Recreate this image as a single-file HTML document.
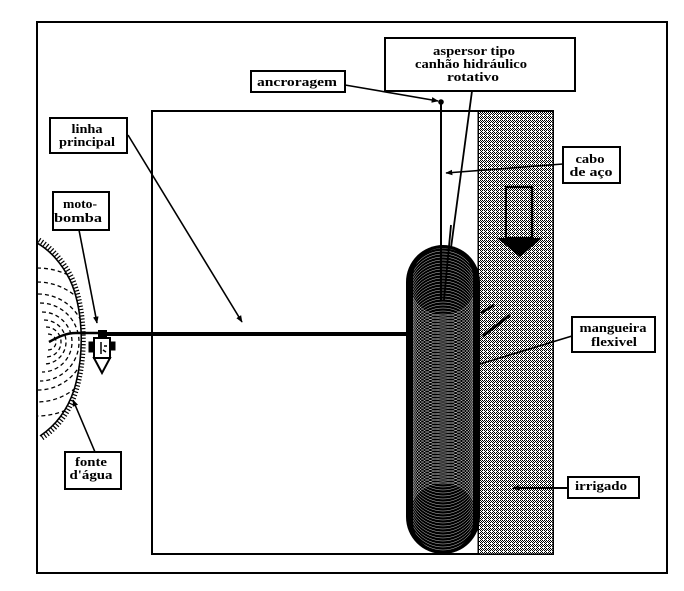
<!DOCTYPE html>
<html><head><meta charset="utf-8">
<style>
html,body{margin:0;padding:0;background:#fff;}
svg{display:block;}
text{font-family:"Liberation Serif","DejaVu Serif",serif;font-weight:bold;font-size:13px;fill:#000;text-anchor:middle;}
</style></head>
<body>
<svg width="684" height="591" viewBox="0 0 684 591" xmlns="http://www.w3.org/2000/svg">
<defs>
<pattern id="chk" patternUnits="userSpaceOnUse" x="0" y="0" width="4" height="4">
<rect width="4" height="4" fill="#fff"/>
<rect x="0" y="0" width="1" height="1" fill="#000"/>
<rect x="2" y="0" width="1" height="1" fill="#000"/>
<rect x="1" y="1" width="1" height="1" fill="#000"/>
<rect x="3" y="1" width="1" height="1" fill="#000"/>
<rect x="0" y="2" width="1" height="1" fill="#000"/>
<rect x="2" y="2" width="1" height="1" fill="#000"/>
<rect x="1" y="3" width="1" height="1" fill="#000"/>
</pattern>
<marker id="ah" viewBox="0 0 10 10" refX="9" refY="5" markerWidth="7" markerHeight="7" orient="auto" markerUnits="userSpaceOnUse">
<path d="M0,1 L10,5 L0,9 Z" fill="#000"/>
</marker>
<clipPath id="water">
<path d="M37,243 C50,250 62,264 70,280 C77,295 80,312 81,330 C82,350 80,370 74,390 C68,408 58,424 40,436 L37,438 Z"/>
</clipPath>
<clipPath id="coilin">
<rect x="413" y="248" width="60" height="303" rx="30"/>
</clipPath>
</defs>

<!-- outer frame -->
<rect x="37" y="22" width="630" height="551" fill="none" stroke="#000" stroke-width="2"/>

<!-- inner field -->
<rect x="152" y="111" width="401" height="443" fill="none" stroke="#000" stroke-width="2"/>
<!-- irrigated strip -->
<rect x="478" y="111" width="75" height="443" fill="url(#chk)" stroke="#000" stroke-width="1.5" shape-rendering="crispEdges"/>

<!-- down arrow in strip -->
<rect x="506" y="187" width="26" height="51" fill="url(#chk)" stroke="#000" stroke-width="2.2"/>
<polygon points="497,238 542,238 520,257" fill="#000"/>

<!-- water body -->
<g fill="none" stroke="#000">
<path d="M37,243 C50,250 62,264 70,280 C77,295 80,312 81,330 C82,350 80,370 74,390 C68,408 58,424 40,436" stroke-width="1.6"/>
<path d="M39,240 C52,248 64,262 72,278 C79,294 82,312 83,330 C84,350 82,371 76,391 C70,410 60,426 42,438" stroke-width="5" stroke-dasharray="1.2 2"/>
<g stroke-width="1.3" stroke-dasharray="4 3" clip-path="url(#water)">
<path d="M48,334 A8,8 0 0 1 48,350"/>
<path d="M46,327 A15,15 0 0 1 46,357"/>
<path d="M44,320 A22,22 0 0 1 44,364"/>
<path d="M42,312 A30,30 0 0 1 42,372"/>
<path d="M40,303 A37,37 0 0 1 40,381"/>
<path d="M38,294 A46,46 0 0 1 38,390"/>
<path d="M37,282 A58,58 0 0 1 37,402"/>
<path d="M37,268 A72,72 0 0 1 37,416"/>
</g>
</g>

<!-- suction pipe -->
<path d="M49,342 C58,337 66,333 76,333 L100,333" fill="none" stroke="#000" stroke-width="2.5"/>
<!-- main line -->
<line x1="104" y1="334" x2="410" y2="334" stroke="#000" stroke-width="4"/>

<!-- pump -->
<g fill="#fff" stroke="#000" stroke-width="2">
<rect x="99" y="331" width="7" height="6" fill="#000"/>
<rect x="94" y="338" width="16" height="20"/>
<path d="M94,358 L110,358 L102,373 Z"/>
<rect x="89" y="342" width="4" height="10" fill="#000" stroke-width="1"/>
<rect x="111" y="342" width="4" height="8" fill="#000" stroke-width="1"/>
<path d="M101,342 L101,354 M104,346 L107,346 M103,350 L106,352" stroke-width="1.5"/>
</g>

<!-- cable and sprinkler lines -->
<line x1="441" y1="102" x2="441" y2="300" stroke="#000" stroke-width="2"/>
<circle cx="441" cy="102" r="2.8" fill="#000"/>
<line x1="472" y1="91" x2="444" y2="300" stroke="#000" stroke-width="1.8"/>

<!-- coil (hose loops) -->
<rect x="406" y="245" width="74" height="309" rx="37" fill="#000"/>
<g fill="none" stroke="#fff" stroke-width="0.4" clip-path="url(#coilin)">
<circle cx="443" cy="282" r="34"/><circle cx="443" cy="285" r="34"/><circle cx="443" cy="288" r="34"/><circle cx="443" cy="291" r="34"/>
<circle cx="443" cy="294" r="34"/><circle cx="443" cy="297" r="34"/><circle cx="443" cy="300" r="34"/><circle cx="443" cy="303" r="34"/>
<circle cx="443" cy="306" r="34"/><circle cx="443" cy="309" r="34"/><circle cx="443" cy="312" r="34"/><circle cx="443" cy="315" r="34"/>
<circle cx="443" cy="318" r="34"/><circle cx="443" cy="321" r="34"/><circle cx="443" cy="324" r="34"/><circle cx="443" cy="327" r="34"/>
<circle cx="443" cy="330" r="34"/><circle cx="443" cy="333" r="34"/><circle cx="443" cy="336" r="34"/><circle cx="443" cy="339" r="34"/>
<circle cx="443" cy="342" r="34"/><circle cx="443" cy="345" r="34"/><circle cx="443" cy="348" r="34"/><circle cx="443" cy="351" r="34"/>
<circle cx="443" cy="354" r="34"/><circle cx="443" cy="357" r="34"/><circle cx="443" cy="360" r="34"/><circle cx="443" cy="363" r="34"/>
<circle cx="443" cy="366" r="34"/><circle cx="443" cy="369" r="34"/><circle cx="443" cy="372" r="34"/><circle cx="443" cy="375" r="34"/>
<circle cx="443" cy="378" r="34"/><circle cx="443" cy="381" r="34"/><circle cx="443" cy="384" r="34"/><circle cx="443" cy="387" r="34"/>
<circle cx="443" cy="390" r="34"/><circle cx="443" cy="393" r="34"/><circle cx="443" cy="396" r="34"/><circle cx="443" cy="399" r="34"/>
<circle cx="443" cy="402" r="34"/><circle cx="443" cy="405" r="34"/><circle cx="443" cy="408" r="34"/><circle cx="443" cy="411" r="34"/>
<circle cx="443" cy="414" r="34"/><circle cx="443" cy="417" r="34"/><circle cx="443" cy="420" r="34"/><circle cx="443" cy="423" r="34"/>
<circle cx="443" cy="426" r="34"/><circle cx="443" cy="429" r="34"/><circle cx="443" cy="432" r="34"/><circle cx="443" cy="435" r="34"/>
<circle cx="443" cy="438" r="34"/><circle cx="443" cy="441" r="34"/><circle cx="443" cy="444" r="34"/><circle cx="443" cy="447" r="34"/>
<circle cx="443" cy="450" r="34"/><circle cx="443" cy="453" r="34"/><circle cx="443" cy="456" r="34"/><circle cx="443" cy="459" r="34"/>
<circle cx="443" cy="462" r="34"/><circle cx="443" cy="465" r="34"/><circle cx="443" cy="468" r="34"/><circle cx="443" cy="471" r="34"/>
<circle cx="443" cy="474" r="34"/><circle cx="443" cy="477" r="34"/><circle cx="443" cy="480" r="34"/><circle cx="443" cy="483" r="34"/>
<circle cx="443" cy="486" r="34"/><circle cx="443" cy="489" r="34"/><circle cx="443" cy="492" r="34"/><circle cx="443" cy="495" r="34"/>
<circle cx="443" cy="498" r="34"/><circle cx="443" cy="501" r="34"/><circle cx="443" cy="504" r="34"/><circle cx="443" cy="507" r="34"/>
<circle cx="443" cy="510" r="34"/><circle cx="443" cy="513" r="34"/><circle cx="443" cy="516" r="34"/>
</g>
<line x1="441" y1="245" x2="441" y2="300" stroke="#000" stroke-width="2"/>
<line x1="451" y1="225" x2="444" y2="300" stroke="#000" stroke-width="1.8"/>

<!-- short strokes on coil -->
<line x1="481" y1="313" x2="494" y2="305" stroke="#000" stroke-width="2.5"/>
<line x1="483" y1="336" x2="510" y2="315" stroke="#000" stroke-width="3"/>

<!-- connectors -->
<g stroke="#000" stroke-width="1.6" fill="none">
<line x1="345" y1="85" x2="438" y2="101" marker-end="url(#ah)"/>
<line x1="563" y1="164" x2="446" y2="173" marker-end="url(#ah)"/>
<line x1="128" y1="135" x2="242" y2="322" marker-end="url(#ah)"/>
<line x1="79" y1="230" x2="97" y2="323" marker-end="url(#ah)"/>
<line x1="95" y1="452" x2="73" y2="400" marker-end="url(#ah)"/>
<line x1="572" y1="336" x2="480" y2="364"/>
<line x1="568" y1="488" x2="513" y2="488" marker-end="url(#ah)" stroke-width="2"/>
</g>

<!-- label boxes -->
<g fill="#fff" stroke="#000" stroke-width="2">
<rect x="385" y="38" width="190" height="53"/>
<rect x="251" y="71" width="94" height="21"/>
<rect x="50" y="118" width="77" height="35"/>
<rect x="53" y="192" width="56" height="38"/>
<rect x="563" y="147" width="57" height="36"/>
<rect x="572" y="317" width="83" height="35"/>
<rect x="568" y="477" width="71" height="21"/>
<rect x="65" y="452" width="56" height="37"/>
</g>

<!-- labels -->
<text x="474" y="55" textLength="82" lengthAdjust="spacingAndGlyphs">aspersor tipo</text>
<text x="471" y="68" textLength="112" lengthAdjust="spacingAndGlyphs">canhão hidráulico</text>
<text x="473" y="81" textLength="52" lengthAdjust="spacingAndGlyphs">rotativo</text>
<text x="297" y="86" textLength="80" lengthAdjust="spacingAndGlyphs">ancroragem</text>
<text x="87" y="133" textLength="31" lengthAdjust="spacingAndGlyphs">linha</text>
<text x="87" y="146" textLength="56" lengthAdjust="spacingAndGlyphs">principal</text>
<text x="80" y="208" textLength="34" lengthAdjust="spacingAndGlyphs">moto-</text>
<text x="78" y="222" textLength="48" lengthAdjust="spacingAndGlyphs">bomba</text>
<text x="590" y="163" textLength="29" lengthAdjust="spacingAndGlyphs">cabo</text>
<text x="591" y="176" textLength="43" lengthAdjust="spacingAndGlyphs">de aço</text>
<text x="613" y="332" textLength="67" lengthAdjust="spacingAndGlyphs">mangueira</text>
<text x="614" y="346" textLength="46" lengthAdjust="spacingAndGlyphs">flexivel</text>
<text x="601" y="490" textLength="52" lengthAdjust="spacingAndGlyphs">irrigado</text>
<text x="91" y="466" textLength="32" lengthAdjust="spacingAndGlyphs">fonte</text>
<text x="91" y="479" textLength="43" lengthAdjust="spacingAndGlyphs">d'água</text>
</svg>
</body></html>
